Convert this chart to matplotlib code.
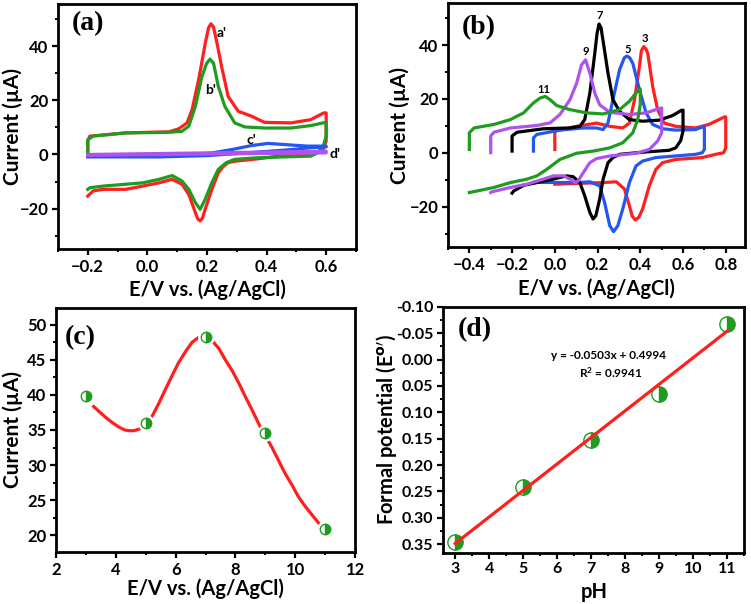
import matplotlib
matplotlib.use('Agg')
import matplotlib.pyplot as plt
from matplotlib.ticker import MultipleLocator

plt.rcParams['font.family'] = ['Lato', 'DejaVu Sans']
plt.rcParams['font.weight'] = 'bold'
plt.rcParams['mathtext.fontset'] = 'custom'
plt.rcParams['mathtext.rm'] = 'Lato:bold'
plt.rcParams['mathtext.bf'] = 'Lato:bold'
plt.rcParams['mathtext.it'] = 'Lato:bold'

RED = '#ff1f1f'
GREEN = '#1f9c1f'
BLUE = '#2456f0'
PURPLE = '#b052ec'
BLACK = '#000000'

# ---- panel (a): CVs of the four electrodes (a'..d') ----
a_red_x = [-0.2, -0.2, -0.193, -0.072, 0.072, 0.105, 0.133, 0.15, 0.172, 0.194, 0.205, 0.213, 0.222,
           0.235, 0.249, 0.271, 0.305, 0.349, 0.393, 0.482, 0.548, 0.592, 0.6,
           0.6, 0.59, 0.57, 0.548, 0.482, 0.371, 0.293, 0.271, 0.254, 0.238, 0.216, 0.194, 0.185,
           0.177, 0.169, 0.161, 0.139, 0.116, 0.083, 0.039, -0.016, -0.072, -0.149, -0.182, -0.2]
a_red_y = [-0.5, 5.0, 6.8, 8.0, 8.4, 9.5, 11.7, 16.6, 27.7, 41.0, 46.8, 48.4, 47.2,
           40.5, 32.6, 21.5, 16.0, 14.2, 11.9, 11.7, 12.9, 15.4, 15.4,
           5.0, 2.0, 0.8, 0.4, 0.0, -1.6, -2.5, -3.0, -4.5, -6.8, -13.0, -20.3, -23.5,
           -24.6, -23.8, -21.5, -14.8, -11.0, -9.2, -10.5, -11.7, -12.9, -12.9, -13.5, -15.4]

a_green_x = [-0.2, -0.2, -0.182, -0.072, 0.072, 0.116, 0.139, 0.161, 0.183, 0.199, 0.21, 0.222,
             0.238, 0.26, 0.293, 0.327, 0.393, 0.482, 0.548, 0.598, 0.6,
             0.6, 0.59, 0.57, 0.548, 0.371, 0.293, 0.265, 0.238, 0.216, 0.194, 0.177, 0.161,
             0.139, 0.116, 0.083, 0.039, -0.016, -0.072, -0.149, -0.193, -0.2]
a_green_y = [-0.5, 5.5, 6.8, 8.0, 8.2, 8.6, 10.5, 17.8, 28.9, 33.8, 35.3, 33.8,
             25.2, 17.8, 11.7, 10.2, 9.8, 9.8, 10.7, 11.9, 11.9,
             6.8, 3.0, 0.5, -0.6, -1.2, -1.8, -3.0, -5.5, -10.5, -16.6, -20.3, -17.8,
             -12.9, -9.8, -7.8, -9.2, -10.5, -11.0, -11.7, -12.3, -12.9]

a_blue_x = [-0.2, 0.205, 0.282, 0.349, 0.404, 0.459, 0.537, 0.6, 0.6, 0.548, 0.482, 0.371, 0.205, 0.039, -0.2]
a_blue_y = [-0.6, 0.4, 1.8, 3.3, 4.1, 3.7, 3.1, 3.1, 2.8, 2.5, 1.8, 0.9, -0.4, -0.9, -0.9]

a_purple_x = [-0.2, 0.6, 0.6, -0.2]
a_purple_y = [0.0, 1.2, 0.6, -0.3]

# ---- panel (b): CVs at pH 3, 5, 7, 9, 11 ----
b_ph3_x = [0.0, 0.0, 0.102, 0.195, 0.257, 0.318, 0.349, 0.373, 0.396, 0.405, 0.416, 0.426, 0.435, 0.458,
           0.481, 0.512, 0.566, 0.659, 0.721, 0.768, 0.795, 0.8,
           0.8, 0.79, 0.752, 0.69, 0.566, 0.504, 0.473, 0.442, 0.411, 0.393, 0.377, 0.362, 0.349,
           0.326, 0.288, 0.226, 0.102, 0.0]
b_ph3_y = [1.2, 8.0, 9.8, 11.0, 9.8, 9.2, 11.0, 19.7, 32.0, 37.8, 39.4, 38.6, 36.9, 24.6,
           16.0, 11.0, 9.8, 9.2, 10.5, 12.3, 13.3, 13.3,
           1.8, 0.0, -0.6, -1.8, -2.5, -3.7, -6.2, -12.3, -20.9, -24.0, -25.0, -23.5, -19.7,
           -13.5, -10.8, -11.1, -11.4, -11.7]

b_ph5_x = [-0.1, -0.1, -0.084, 0.024, 0.133, 0.195, 0.226, 0.249, 0.272, 0.303, 0.325, 0.337, 0.35, 0.365,
           0.396, 0.427, 0.458, 0.504, 0.566, 0.659, 0.699, 0.7,
           0.7, 0.69, 0.659, 0.566, 0.473, 0.411, 0.38, 0.349, 0.318, 0.295, 0.275, 0.257, 0.233,
           0.21, 0.164, 0.102, -0.1]
b_ph5_y = [0.6, 5.5, 6.8, 8.4, 9.2, 9.2, 8.6, 11.1, 19.7, 30.8, 35.2, 35.9, 35.3, 33.2,
           23.4, 14.8, 10.5, 8.9, 8.4, 8.6, 9.8, 9.8,
           1.2, 0.0, -0.6, -1.2, -1.8, -3.1, -4.9, -11.1, -20.9, -27.1, -29.3, -27.1, -18.5,
           -12.3, -10.8, -11.1, -11.0]

b_ph7_x = [-0.2, -0.2, -0.177, -0.053, 0.071, 0.117, 0.14, 0.164, 0.187, 0.198, 0.207, 0.216, 0.226,
           0.249, 0.272, 0.303, 0.349, 0.411, 0.489, 0.551, 0.594, 0.6,
           0.6, 0.589, 0.566, 0.535, 0.411, 0.303, 0.272, 0.249, 0.226, 0.21, 0.192, 0.179, 0.164,
           0.14, 0.117, 0.086, 0.055, -0.007, -0.084, -0.146, -0.192, -0.2]
b_ph7_y = [0.6, 6.2, 7.6, 8.9, 9.2, 9.8, 12.3, 22.2, 36.9, 44.5, 47.8, 46.5, 41.5,
           29.5, 19.7, 15.4, 12.3, 11.7, 12.1, 13.8, 15.8, 15.8,
           8.0, 4.5, 1.8, 0.9, 0.2, -0.6, -1.8, -3.7, -9.8, -17.2, -23.4, -24.6, -22.2,
           -16.0, -11.1, -8.9, -8.6, -9.8, -11.1, -12.1, -14.2, -15.0]

b_ph9_x = [-0.3, -0.3, -0.285, -0.208, -0.084, -0.022, 0.024, 0.071, 0.102, 0.125, 0.144, 0.164,
           0.187, 0.21, 0.257, 0.349, 0.427, 0.473, 0.497, 0.5,
           0.5, 0.481, 0.442, 0.38, 0.257, 0.195, 0.164, 0.133, 0.109, 0.094, 0.071, 0.04,
           -0.007, -0.053, -0.13, -0.208, -0.293, -0.3]
b_ph9_y = [0.0, 6.2, 7.6, 9.2, 10.1, 11.1, 14.2, 19.7, 25.8, 32.6, 34.5, 29.5,
           22.2, 17.8, 15.0, 14.2, 14.8, 16.0, 16.6, 16.6,
           7.4, 4.3, 1.2, -0.2, -1.2, -2.2, -3.7, -7.4, -10.5, -11.1, -9.8, -8.6,
           -8.6, -9.8, -11.7, -12.9, -14.5, -14.8]

b_ph11_x = [-0.4, -0.4, -0.378, -0.285, -0.208, -0.146, -0.1, -0.069, -0.045, -0.022, 0.009, 0.071,
            0.148, 0.226, 0.303, 0.349, 0.38, 0.399, 0.4,
            0.4, 0.388, 0.365, 0.318, 0.257, 0.179, 0.102, 0.024, -0.038, -0.084, -0.13, -0.208, -0.285, -0.4]
b_ph11_y = [1.2, 7.4, 9.2, 10.5, 12.3, 14.8, 18.5, 20.3, 20.9, 19.7, 17.5, 16.0,
            14.8, 14.4, 16.0, 19.1, 22.2, 23.6, 23.6,
            18.0, 12.3, 7.4, 3.7, 1.8, 0.6, -0.2, -2.5, -6.2, -8.6, -9.8, -11.1, -12.9, -14.8]

# ---- panel (c): peak current vs pH ----
ph = [3, 5, 7, 9, 11]
peak_current = [39.8, 36.0, 48.3, 34.5, 20.9]
# smooth red curve
c_curve_x = [3.22, 3.45, 3.66, 3.9, 4.11, 4.3, 4.44, 4.6, 4.77, 4.99, 5.22, 5.45, 5.66, 5.9, 6.1,
             6.35, 6.55, 6.77, 7.0, 7.21, 7.45, 7.65, 7.9, 8.1, 8.35, 8.54, 8.87, 9.2, 9.45, 9.65,
             9.9, 10.09, 10.3, 10.54, 10.81]
c_curve_y = [38.5, 37.6, 36.8, 36.0, 35.4, 35.0, 34.9, 34.9, 35.1, 35.8, 37.0, 38.9, 40.8, 42.9, 44.6,
             46.3, 47.5, 48.2, 48.4, 47.8, 46.6, 45.1, 43.4, 41.8, 39.6, 38.0, 35.1, 32.7, 30.6, 28.9,
             27.1, 25.6, 24.3, 23.0, 21.6]

# ---- panel (d): formal potential vs pH ----
formal_potential = [0.346, 0.241, 0.153, 0.066, -0.068]
fit_slope = -0.0503
fit_intercept = 0.4994
fit_x = [3, 11]

fig = plt.figure(figsize=(7.51, 6.04), dpi=100)
ax_a = fig.add_axes([0.0772, 0.5877, 0.3968, 0.4056])
ax_b = fig.add_axes([0.5965, 0.5911, 0.3955, 0.4035])
ax_c = fig.add_axes([0.0746, 0.0861, 0.3981, 0.4040])
ax_d = fig.add_axes([0.5903, 0.0849, 0.4008, 0.4073])


def style(ax, size=12):
    for s in ax.spines.values():
        s.set_linewidth(2.0)
    ax.tick_params(which='major', direction='out', length=4, width=1.6, labelsize=size, pad=3)
    ax.tick_params(which='minor', direction='out', length=2.5, width=1.4)
    ax.tick_params(top=False, right=False, which='both')
    for lab in ax.get_xticklabels() + ax.get_yticklabels():
        lab.set_fontweight('bold')


def labels(ax, xl, yl, xpos, ypos):
    ax.set_xlabel(xl, fontsize=14.5, fontweight='bold')
    ax.set_ylabel(yl, fontsize=15, fontweight='bold', math_fontfamily='dejavusans')
    ax.xaxis.set_label_coords(0.5, xpos)
    ax.yaxis.set_label_coords(ypos, 0.5)
    ax.xaxis.label.set_va('center')
    ax.yaxis.label.set_va('center')


def panel_label(ax, txt, x, y):
    ax.text(x, y, txt, transform=ax.transAxes, ha='center', va='center',
            fontsize=20, fontweight='bold', family='Liberation Serif')


lw = 2.3
# (a)
ax_a.plot(a_red_x, a_red_y, color=RED, lw=lw)
ax_a.plot(a_green_x, a_green_y, color=GREEN, lw=lw)
ax_a.plot(a_blue_x, a_blue_y, color=BLUE, lw=lw)
ax_a.plot(a_purple_x, a_purple_y, color=PURPLE, lw=lw)
ax_a.set_xlim(-0.3, 0.7)
ax_a.set_ylim(-35, 55.7)
ax_a.xaxis.set_minor_locator(MultipleLocator(0.1))
ax_a.yaxis.set_major_locator(MultipleLocator(20))
ax_a.yaxis.set_minor_locator(MultipleLocator(10))
ax_a.set_xticks([-0.2, 0.0, 0.2, 0.4, 0.6])
labels(ax_a, 'E/V vs. (Ag/AgCl)', 'Current (µA)', -0.167, -0.151)
for t, x, y in [("a'", 0.248, 45), ("b'", 0.211, 24), ("c'", 0.349, 5.5), ("d'", 0.628, 0)]:
    ax_a.text(x, y, t, fontsize=10, fontweight='bold', ha='center', va='center')
panel_label(ax_a, '(a)', 0.1, 0.922)
style(ax_a)

# (b)
ax_b.plot(b_ph3_x, b_ph3_y, color=RED, lw=lw)
ax_b.plot(b_ph5_x, b_ph5_y, color=BLUE, lw=lw)
ax_b.plot(b_ph7_x, b_ph7_y, color=BLACK, lw=lw)
ax_b.plot(b_ph9_x, b_ph9_y, color=PURPLE, lw=lw)
ax_b.plot(b_ph11_x, b_ph11_y, color=GREEN, lw=lw)
ax_b.set_xlim(-0.5, 0.89)
ax_b.set_ylim(-35, 55.5)
ax_b.set_xticks([-0.4, -0.2, 0.0, 0.2, 0.4, 0.6, 0.8])
ax_b.xaxis.set_minor_locator(MultipleLocator(0.1))
ax_b.yaxis.set_major_locator(MultipleLocator(20))
ax_b.yaxis.set_minor_locator(MultipleLocator(10))
labels(ax_b, 'E/V vs. (Ag/AgCl)', 'Current (µA)', -0.172, -0.162)
for t, x, y in [('7', 0.21, 51), ('9', 0.144, 37.5), ('5', 0.343, 38.5), ('3', 0.42, 42.5), ('11', -0.05, 23.6)]:
    ax_b.text(x, y, t, fontsize=8, fontweight='bold', ha='center', va='center')
panel_label(ax_b, '(b)', 0.104, 0.9)
style(ax_b)

# (c)
ax_c.plot(c_curve_x, c_curve_y, color=RED, lw=lw, solid_capstyle='butt', solid_joinstyle='round')
ax_c.plot(ph, peak_current, ls='none', marker='o', ms=11, color='white', mec='white')
ax_c.plot(ph, peak_current, ls='none', marker='o', ms=7.5, fillstyle='right',
          mfc=GREEN, mfcalt='white', mec=GREEN, mew=1.0)
ax_c.set_xlim(2, 12)
ax_c.set_ylim(17.6, 52.4)
ax_c.xaxis.set_major_locator(MultipleLocator(2))
ax_c.xaxis.set_minor_locator(MultipleLocator(1))
ax_c.yaxis.set_major_locator(MultipleLocator(5))
ax_c.yaxis.set_minor_locator(MultipleLocator(2.5))
labels(ax_c, 'E/V vs. (Ag/AgCl)', 'Current (µA)', -0.15, -0.145)
panel_label(ax_c, '(c)', 0.082, 0.878)
style(ax_c)

# (d)
fit_y = [fit_slope * x + fit_intercept for x in fit_x]
ax_d.plot(ph, formal_potential, ls='none', marker='o', ms=11, fillstyle='right',
          mfc=GREEN, mfcalt='white', mec=GREEN, mew=1.0, zorder=2)
ax_d.plot(fit_x, fit_y, color=RED, lw=lw, zorder=3)
ax_d.set_xlim(2.65, 11.5)
ax_d.set_ylim(0.366, -0.10)
ax_d.xaxis.set_minor_locator(MultipleLocator(0.5))
ax_d.set_xticks(range(3, 12))
ax_d.yaxis.set_major_locator(MultipleLocator(0.05))
ax_d.yaxis.set_minor_locator(MultipleLocator(0.025))
ax_d.yaxis.set_major_formatter(lambda v, p: '%.2f' % v)
labels(ax_d, 'pH', r"Formal potential (E$^{\mathbf{o\prime}}$)", -0.158, -0.19)
ax_d.yaxis.label.set_fontsize(14.5)
ax_d.text(0.55, 0.80, 'y = -0.0503x + 0.4994', transform=ax_d.transAxes, ha='center', va='center',
          fontsize=8.5, fontweight='bold')
ax_d.text(0.555, 0.73, r'R$^\mathbf{2}$ = 0.9941', transform=ax_d.transAxes, ha='center', va='center',
          fontsize=8.5, fontweight='bold')
panel_label(ax_d, '(d)', 0.106, 0.906)
style(ax_d, size=11.5)

fig.savefig('out.png', dpi=100)
